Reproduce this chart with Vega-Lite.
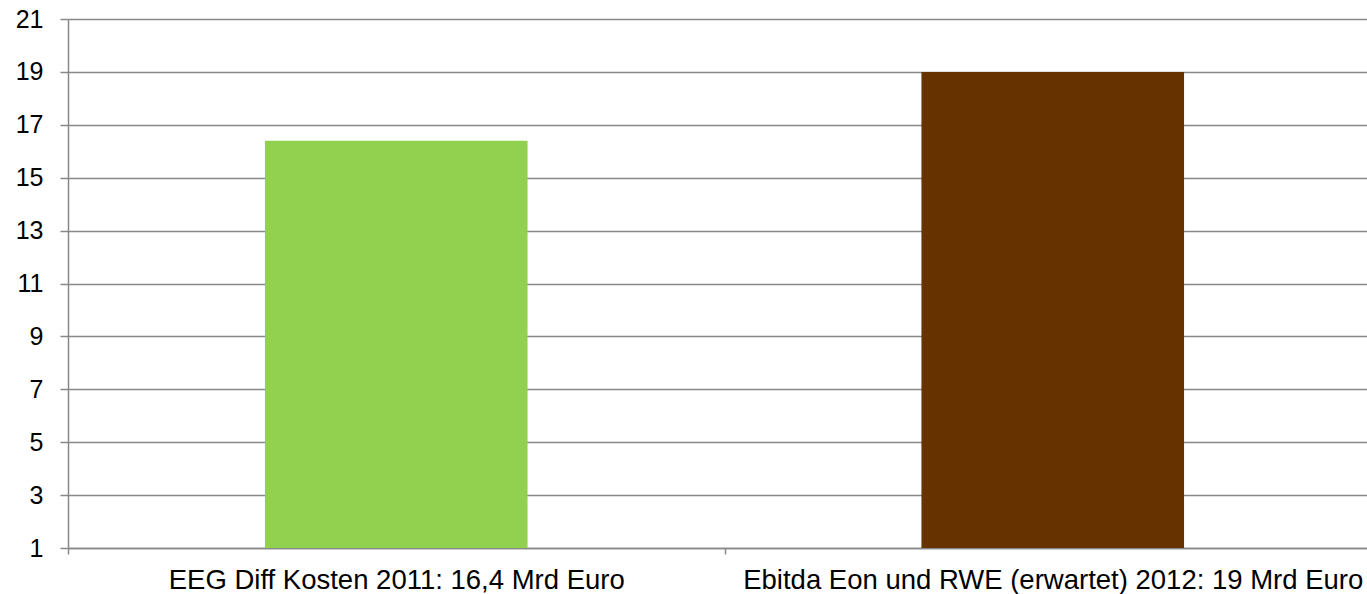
{
  "$schema": "https://vega.github.io/schema/vega-lite/v6.json",
  "autosize": "none",
  "padding": {"left": 68, "top": 19, "right": 0, "bottom": 46},
  "width": 1313,
  "height": 529,
  "background": "white",
  "config": {
    "view": {"stroke": null},
    "font": "Liberation Sans",
    "axis": {"labelFont": "Liberation Sans", "labelColor": "black", "domainColor": "#888888", "tickColor": "#888888", "gridColor": "#888888", "domainWidth": 1.5, "tickWidth": 1.5, "gridWidth": 1.5}
  },
  "data": {"values": [
    {"label": "EEG Diff Kosten 2011: 16,4 Mrd Euro", "value": 16.4, "color": "#92D050"},
    {"label": "Ebitda Eon und RWE (erwartet) 2012: 19 Mrd Euro", "value": 19, "color": "#663300"}
  ]},
  "mark": {"type": "bar", "width": {"band": 0.4}, "clip": true},
  "encoding": {
    "x": {"field": "label", "type": "nominal", "sort": null, "title": null,
      "scale": {"paddingInner": 0, "paddingOuter": 0},
      "axis": {"labelAngle": 0, "tickBand": "extent", "tickSize": 6, "labelFontSize": 27.5, "labelPadding": 12, "grid": false, "labelLimit": 0}},
    "y": {"field": "value", "type": "quantitative", "title": null,
      "scale": {"domain": [1, 21], "nice": false, "zero": false},
      "axis": {"values": [1,3,5,7,9,11,13,15,17,19,21], "tickSize": 8, "labelFontSize": 25, "labelPadding": 17, "grid": true}},
    "y2": {"datum": 1},
    "color": {"field": "color", "type": "nominal", "scale": null, "legend": null}
  }
}
